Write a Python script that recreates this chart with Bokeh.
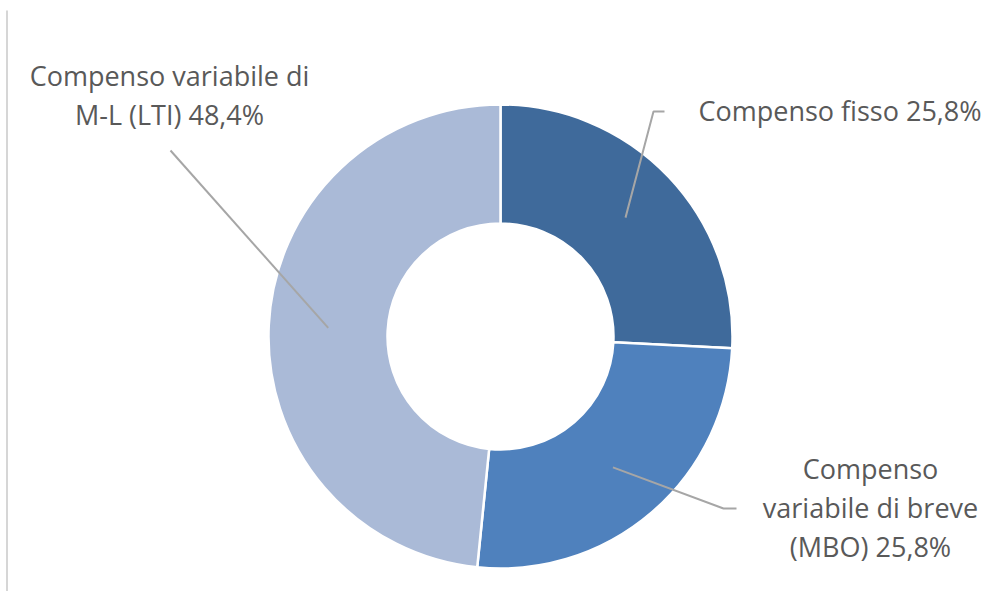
import math
from bokeh.plotting import figure
from bokeh.models import Range1d, ColumnDataSource
from bokeh.core.properties import value
from bokeh.embed import file_html
from bokeh.resources import INLINE

# ---- data ----
categories = ["Compenso fisso", "Compenso variabile di breve (MBO)", "Compenso variabile di M-L (LTI)"]
shares = [25.8, 25.8, 48.4]
colors = ["#3F6A9B", "#4F81BD", "#AABAD7"]
# label text, wrapped as in the original; {} is filled with the share
label_lines = [
    ["Compenso fisso {}"],
    ["Compenso", "variabile di breve", "(MBO) {}"],
    ["Compenso variabile di", "M-L (LTI) {}"],
]

# ---- layout (pixel coordinates of the picture) ----
W, H = 987, 591
REF_H = 607


def Y(ys):
    return REF_H - ys


CX, CY = 500, Y(336)
R_OUT, R_IN = 232, 113
FONT = "Open Sans"
FONT_SIZE = 27
LINE_SP = 39
label_anchor = [(698, 110, "left"), (870, 468, "center"), (169, 75, "center")]
leader_elbows = [[(653, 111), (664, 111)], [(723, 508), (736, 508)], [(170, 150)]]

p = figure(width=W, height=H, output_backend="svg", toolbar_location=None,
           x_range=Range1d(0, W), y_range=Range1d(REF_H - H, REF_H),
           min_border=0, outline_line_color=None, background_fill_color="white",
           border_fill_color="white")
p.xaxis.visible = False
p.yaxis.visible = False
p.grid.visible = False

total = sum(shares)
starts, ends, mids = [], [], []
cum = 0.0
for s in shares:
    a0 = math.pi / 2 - 2 * math.pi * cum / total
    cum += s
    a1 = math.pi / 2 - 2 * math.pi * cum / total
    starts.append(a0)
    ends.append(a1)
    mids.append((a0 + a1) / 2)

src = ColumnDataSource(dict(x=[CX] * 3, y=[CY] * 3, s=starts, e=ends, c=colors, cat=categories))
p.annular_wedge(x="x", y="y", inner_radius=R_IN, outer_radius=R_OUT, start_angle="s",
                end_angle="e", direction="clock", fill_color="c", line_color="white",
                line_width=2.5, source=src)

# leader lines
xs, ys = [], []
rm = (R_IN + R_OUT) / 2
for m, elb in zip(mids, leader_elbows):
    px = CX + rm * math.cos(m)
    py = CY + rm * math.sin(m)
    xs.append([px] + [e[0] for e in elb])
    ys.append([py] + [Y(e[1]) for e in elb])
p.multi_line(xs=xs, ys=ys, line_color="#A6A6A6", line_width=2)

# labels
for lines, share, (ax, ay, al) in zip(label_lines, shares, label_anchor):
    pct = ("%.1f" % share).replace(".", ",") + "%"
    txt = [ln.format(pct) for ln in lines]
    tx = [ax] * len(txt)
    ty = [Y(ay + i * LINE_SP) for i in range(len(txt))]
    p.text(x=tx, y=ty, text=txt, text_font=value(FONT), text_font_size=f"{FONT_SIZE}px",
           text_color="#595959", text_align=al, text_baseline="alphabetic")

# chart-area left border
p.segment(x0=[6.5], y0=[Y(10)], x1=[6.5], y1=[Y(607)], line_color="#C8C8C8", line_width=1.5)

open("out.html", "w").write(file_html(p, INLINE))
